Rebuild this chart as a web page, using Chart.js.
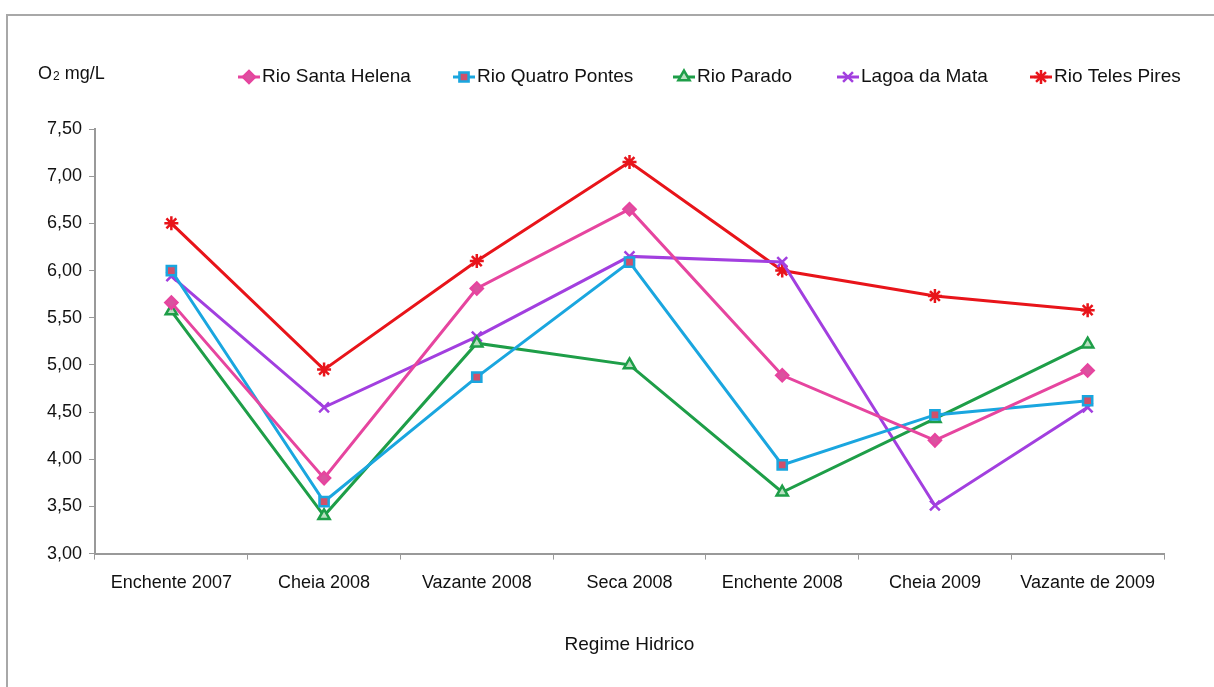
<!DOCTYPE html>
<html>
<head>
<meta charset="utf-8">
<script src="https://cdn.jsdelivr.net/npm/chart.js@4.4.1/dist/chart.umd.min.js"></script>
<style>
html,body{margin:0;padding:0;background:#fff;overflow:hidden;}
#wrap{position:absolute;left:0;top:0;width:1214px;height:687px;}
</style>
</head>
<body>
<div id="wrap"><canvas id="c" width="1214" height="687"></canvas></div>
<script>
const categories = ["Enchente 2007","Cheia 2008","Vazante 2008","Seca 2008","Enchente 2008","Cheia 2009","Vazante de 2009"];
const santaHelena  = [5.66, 3.80, 5.81, 6.65, 4.89, 4.20, 4.94];
const quatroPontes = [6.00, 3.55, 4.87, 6.09, 3.94, 4.47, 4.62];
const parado       = [5.57, 3.40, 5.23, 5.00, 3.65, 4.43, 5.22];
const lagoaMata    = [5.94, 4.55, 5.30, 6.15, 6.09, 3.51, 4.55];
const telesPires   = [6.50, 4.95, 6.10, 7.15, 6.00, 5.73, 5.58];
const seriesNames  = ["Rio Santa Helena","Rio Quatro Pontes","Rio Parado","Lagoa da Mata","Rio Teles Pires"];
const yTicks = [3.0,3.5,4.0,4.5,5.0,5.5,6.0,6.5,7.0,7.5];

const FONT = "'Liberation Sans', Arial, sans-serif";
const styles = [
  {color:'#E6459F', fill:'#D9539F', point:'rectRot', r:6},
  {color:'#1AA6DF', fill:'#D0506A', point:'rect', r:6.5},
  {color:'#1E9E48', fill:'#B8E0C0', point:'triangle', r:6.5},
  {color:'#A23FDF', fill:'#A23FDF', point:'crossRot', r:7},
  {color:'#E8141A', fill:'#E8141A', point:'star', r:7}
];
const values = [santaHelena, quatroPontes, parado, lagoaMata, telesPires];

const datasets = values.map((v,i)=>({
  label: seriesNames[i],
  data: v,
  borderColor: styles[i].color,
  backgroundColor: styles[i].fill,
  borderWidth: 3,
  pointStyle: styles[i].point,
  pointRadius: styles[i].r,
  pointBorderColor: styles[i].color,
  pointBackgroundColor: styles[i].fill,
  pointBorderWidth: 2.5,
  tension: 0,
  fill: false
}));

const legendX = [238, 453, 673, 837, 1030];

const decor = {
  id:'decor',
  beforeDraw(chart){
    const ctx = chart.ctx;
    ctx.save();
    ctx.strokeStyle = '#a8a8a8';
    ctx.lineWidth = 2;
    ctx.beginPath();
    ctx.moveTo(7, 687); ctx.lineTo(7, 15); ctx.lineTo(1214, 15);
    ctx.stroke();
    ctx.restore();
  },
  afterDraw(chart){
    const ctx = chart.ctx;
    ctx.save();
    ctx.fillStyle = '#111';
    ctx.textBaseline = 'middle';
    ctx.textAlign = 'left';
    ctx.font = '18px ' + FONT;
    ctx.fillText('O', 38, 74);
    const ow = ctx.measureText('O').width;
    ctx.font = '12px ' + FONT;
    ctx.fillText('2', 38 + ow + 1, 77);
    const tw = ctx.measureText('2').width;
    ctx.font = '18px ' + FONT;
    ctx.fillText(' mg/L', 38 + ow + 1 + tw, 74);
    const y = 77;
    chart.data.datasets.forEach((ds, i) => {
      const x = legendX[i];
      ctx.strokeStyle = ds.borderColor;
      ctx.lineWidth = 3;
      ctx.beginPath(); ctx.moveTo(x, y); ctx.lineTo(x + 22, y); ctx.stroke();
      ctx.fillStyle = ds.pointBackgroundColor;
      ctx.strokeStyle = ds.pointBorderColor;
      ctx.lineWidth = 2.5;
      Chart.helpers.drawPoint(ctx, {pointStyle: ds.pointStyle, radius: ds.pointRadius, borderWidth: 2.5}, x + 11, y);
      ctx.fillStyle = '#111';
      ctx.font = '19px ' + FONT;
      ctx.textAlign = 'left';
      ctx.fillText(ds.label, x + 24, y);
    });
    ctx.restore();
  }
};

new Chart(document.getElementById('c'), {
  type: 'line',
  data: { labels: categories, datasets },
  options: {
    responsive: false,
    animation: false,
    layout: { padding: { left: 0, right: 50, top: 129, bottom: 31 } },
    plugins: { legend: { display: false }, tooltip: { enabled: false } },
    scales: {
      x: {
        offset: true,
        grid: { offset: true, drawOnChartArea: false, color: '#999', tickLength: 6, lineWidth: 1 },
        border: { color: '#999', width: 2 },
        ticks: { color: '#111', font: { family: FONT, size: 18 }, padding: 13, maxRotation: 0, autoSkip: false },
        title: { display: true, text: 'Regime Hidrico', color: '#111', font: { family: FONT, size: 19 }, padding: { top: 26, bottom: 0 } }
      },
      y: {
        min: 3, max: 7.5,
        afterBuildTicks(scale){ scale.ticks = yTicks.map(v => ({ value: v })); },
        afterFit(scale){ scale.width = 95; },
        grid: { drawOnChartArea: false, color: '#999', tickLength: 6 },
        border: { color: '#999', width: 2 },
        ticks: {
          color: '#111', font: { family: FONT, size: 18 }, padding: 7,
          callback: v => Number(v).toFixed(2).replace('.', ',')
        }
      }
    }
  },
  plugins: [decor]
});
</script>
</body>
</html>
